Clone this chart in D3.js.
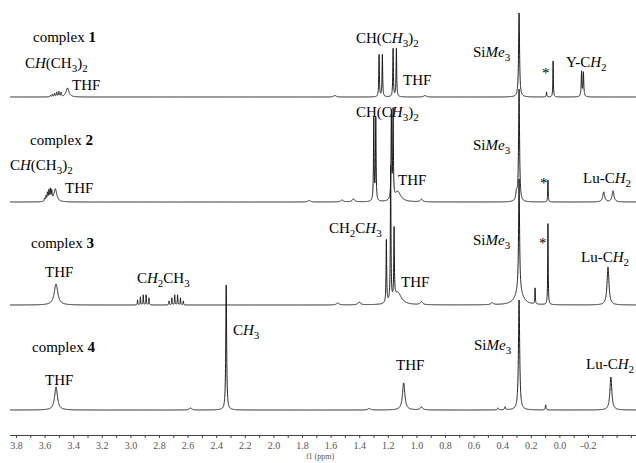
<!DOCTYPE html>
<html>
<head>
<meta charset="utf-8">
<script src="https://cdn.jsdelivr.net/npm/d3@7"></script>
<style>
  body { margin: 0; background: #fff; }
  svg { display: block; }
</style>
</head>
<body>
<svg width="636" height="463"></svg>
<script>
// chemical shifts (ppm), peak heights, half widths (ppm) for each complex
const spec1Shift  = [3.56, 3.545, 3.53, 3.515, 3.50, 3.485, 3.44, 1.57, 1.261, 1.238, 1.163, 1.14, 0.94, 0.282, 0.09, 0.044, -0.155, -0.168];
const spec1Height = [1.5, 2.5, 3.5, 4.5, 5, 4, 9, 1.5, 42, 42, 48, 48, 1.5, 84, 5, 36, 25, 24];
const spec1Width  = [0.003, 0.003, 0.003, 0.003, 0.003, 0.003, 0.012, 0.01, 0.0025, 0.0025, 0.0025, 0.0025, 0.01, 0.004, 0.002, 0.002, 0.003, 0.003];

const spec2Shift  = [3.6, 3.59, 3.58, 3.57, 3.56, 3.55, 3.525, 1.75, 1.52, 1.44, 1.298, 1.284, 1.175, 1.163, 1.13, 0.965, 0.30, 0.282, 0.08, -0.31, -0.375];
const spec2Height = [3, 5, 8, 10, 11, 9, 13, 1.5, 2, 3, 82, 82, 87, 87, 10, 2.5, 8, 112, 22, 10, 11];
const spec2Width  = [0.003, 0.003, 0.003, 0.003, 0.003, 0.003, 0.012, 0.01, 0.01, 0.01, 0.0025, 0.0025, 0.0025, 0.0025, 0.025, 0.01, 0.006, 0.004, 0.002, 0.008, 0.008];

const spec3Shift  = [3.52, 2.95, 2.93, 2.91, 2.89, 2.87, 2.73, 2.71, 2.69, 2.67, 2.65, 2.63, 1.55, 1.40, 1.21, 1.18, 1.156, 1.13, 0.965, 0.47, 0.282, 0.282, 0.17, 0.08, -0.34];
const spec3Height = [21, 5, 8, 10, 10, 7, 4, 7, 10, 10, 7, 4, 2, 3, 63, 135, 70, 12, 3, 2, 112, 14, 16, 81, 38];
const spec3Width  = [0.015, 0.002, 0.002, 0.002, 0.002, 0.002, 0.002, 0.002, 0.002, 0.002, 0.002, 0.002, 0.01, 0.01, 0.0025, 0.0025, 0.0025, 0.03, 0.01, 0.01, 0.004, 0.03, 0.002, 0.002, 0.008];

const spec4Shift  = [3.52, 2.58, 2.33, 1.33, 1.089, 0.965, 0.43, 0.38, 0.282, 0.096, -0.36];
const spec4Height = [23, 2, 125, 1.5, 27, 3, 2, 3, 110, 5, 33];
const spec4Width  = [0.012, 0.01, 0.0035, 0.01, 0.01, 0.01, 0.004, 0.004, 0.005, 0.003, 0.008];

const baselines = [97, 202, 305, 410];

const tickValues = d3.range(-5, 39).map(d => d / 10);
const tickLabels = ["3.8", "3.6", "3.4", "3.2", "3.0", "2.8", "2.6", "2.4", "2.2", "2.0", "1.8",
    "1.6", "1.4", "1.2", "1.0", "0.8", "0.6", "0.4", "0.2", "0.0", "-0.2"];

const svg = d3.select('svg');

const x = d3.scaleLinear()
    .domain([3.8, -0.2])
    .range([16, 588]);

const h = d3.scaleLinear()
    .domain([0, 100])
    .range([0, 100]);

const specs = [
    { shift: spec1Shift, height: spec1Height, width: spec1Width },
    { shift: spec2Shift, height: spec2Height, width: spec2Width },
    { shift: spec3Shift, height: spec3Height, width: spec3Width },
    { shift: spec4Shift, height: spec4Height, width: spec4Width }
];

const ppmGrid = d3.range(x.invert(10), x.invert(636), -0.0005);

specs.forEach((s, k) => {
    const base = baselines[k];
    let pts = ppmGrid.concat(s.shift).sort((a, b) => b - a);
    const line = d3.line()
        .x(p => x(p))
        .y(p => {
            let sum = 0;
            s.shift.forEach((c, i) => {
                const g = s.width[i];
                sum += s.height[i] * g * g / (g * g + (p - c) * (p - c));
            });
            return base - h(sum);
        });
    svg.append('path')
        .attr('d', line(pts))
        .attr('fill', 'none')
        .attr('stroke', '#1a1a1a')
        .attr('stroke-width', 1);
});

// axis
const axis = d3.axisBottom(x)
    .tickValues(tickValues)
    .tickSize(3)
    .tickFormat(d => {
        const lbl = (d < 0 ? "-" : "") + Math.abs(d).toFixed(1);
        return tickLabels.includes(lbl) ? lbl : "";
    });

const gAxis = svg.append('g')
    .attr('transform', 'translate(0,435)')
    .call(axis);
gAxis.select('.domain').attr('d', 'M10,0.5H636').attr('stroke', '#444');
gAxis.selectAll('.tick line').attr('stroke', '#444');
gAxis.selectAll('.tick text')
    .attr('fill', '#555')
    .attr('y', 7)
    .style('font-family', '"Liberation Serif", serif')
    .style('font-size', '10px');

svg.append('text')
    .attr('x', 320)
    .attr('y', 459)
    .attr('text-anchor', 'middle')
    .attr('fill', '#555')
    .style('font-family', '"Liberation Serif", serif')
    .style('font-size', '8px')
    .text('f1 (ppm)');

// labels: [text, style] with style n normal, i italic, b bold, s subscript
function label(lx, ly, parts) {
    const t = svg.append('text')
        .attr('x', lx)
        .attr('y', ly)
        .attr('fill', '#000')
        .style('font-family', '"Liberation Serif", "Times New Roman", serif')
        .style('font-size', '15px');
    let sub = false;
    parts.forEach(([txt, st]) => {
        const ts = t.append('tspan').text(txt);
        if (st.includes('i')) ts.style('font-style', 'italic');
        if (st.includes('b')) ts.style('font-weight', 'bold');
        if (st.includes('s')) {
            ts.style('font-size', '11px');
            if (!sub) ts.attr('dy', 4);
            sub = true;
        } else if (sub) {
            ts.attr('dy', -4);
            sub = false;
        }
    });
}

const chLeft = [["C", "n"], ["H", "i"], ["(CH", "n"], ["3", "s"], [")", "n"], ["2", "s"]];
const chRight = [["CH(C", "n"], ["H", "i"], ["3", "s"], [")", "n"], ["2", "s"]];
const siMe = [["Si", "n"], ["Me", "i"], ["3", "s"]];
const luCH = [["Lu-C", "n"], ["H", "i"], ["2", "s"]];
const thf = [["THF", "n"]];

label(33, 42, [["complex ", "n"], ["1", "b"]]);
label(25, 68, chLeft);
label(72, 90, thf);
label(356, 43, chRight);
label(403, 85, thf);
label(473, 57, siMe);
label(542, 78, [["*", "n"]]);
label(566, 67, [["Y-C", "n"], ["H", "i"], ["2", "s"]]);

label(30, 145, [["complex ", "n"], ["2", "b"]]);
label(10, 170, chLeft);
label(65, 193, thf);
label(356, 117, chRight);
label(398, 185, thf);
label(473, 150, siMe);
label(540, 188, [["*", "n"]]);
label(583, 183, luCH);

label(31, 248, [["complex ", "n"], ["3", "b"]]);
label(45, 277, thf);
label(137, 283, [["C", "n"], ["H", "i"], ["2", "s"], ["CH", "n"], ["3", "s"]]);
label(329, 233, [["CH", "n"], ["2", "s"], ["C", "n"], ["H", "i"], ["3", "s"]]);
label(401, 287, thf);
label(473, 245, siMe);
label(539, 248, [["*", "n"]]);
label(581, 262, luCH);

label(32, 352, [["complex ", "n"], ["4", "b"]]);
label(45, 385, thf);
label(233, 335, [["C", "n"], ["H", "i"], ["3", "s"]]);
label(396, 370, thf);
label(474, 350, siMe);
label(586, 369, luCH);
</script>
</body>
</html>
